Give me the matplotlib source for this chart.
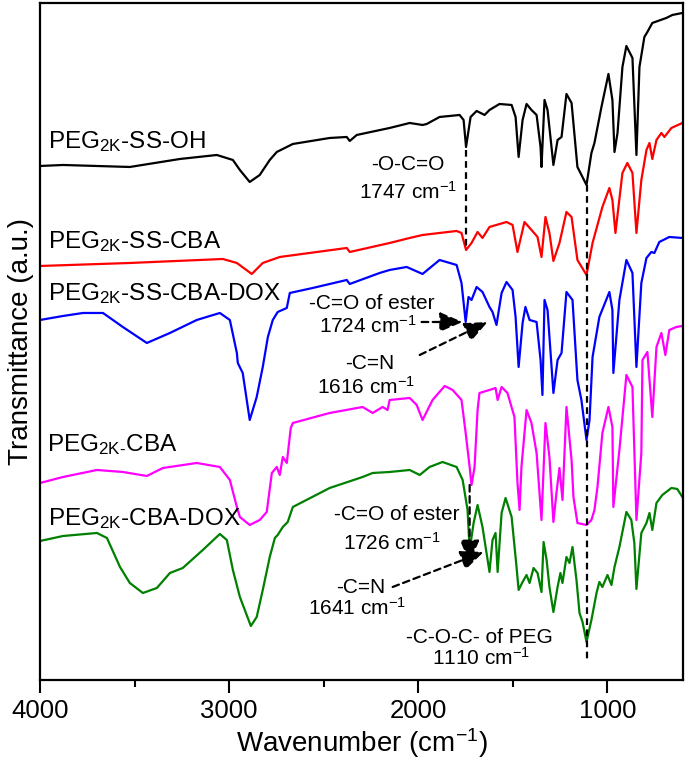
import numpy as np
import matplotlib
matplotlib.use('Agg')
import matplotlib.pyplot as plt
from matplotlib.ticker import MultipleLocator

plt.rcParams['font.family'] = ['Liberation Sans', 'DejaVu Sans']
plt.rcParams['mathtext.fontset'] = 'custom'
plt.rcParams['mathtext.rm'] = 'Liberation Sans'
plt.rcParams['mathtext.it'] = 'Liberation Sans'

# FTIR spectra, wavenumber (cm-1) / transmittance (a.u., stacked)
wn_ss_oh = [4000, 3878, 3525, 3260, 3065, 2980, 2943, 2891, 2838, 2785, 2748, 2663, 2468, 2378, 2362,
            2325, 2151, 2045, 1977, 1955, 1887, 1781, 1760, 1747, 1723, 1691, 1649, 1623, 1570, 1506,
            1485, 1469, 1448, 1427, 1401, 1374, 1353, 1348, 1332, 1316, 1285, 1263, 1242, 1216, 1189,
            1158, 1110, 1084, 1068, 1031, 994, 973, 962, 946, 920, 899, 867, 846, 830, 804, 788, 762,
            688, 656, 603]
t_ss_oh = [514, 515, 513, 521, 525, 520, 510, 498, 505, 520, 528, 536, 542, 543, 539,
           545, 552, 557, 555, 556, 563, 565, 560, 533, 563, 569, 565, 570, 576, 575,
           563, 523, 560, 576, 570, 565, 533, 513, 580, 570, 515, 540, 543, 586, 577,
           513, 495, 527, 537, 573, 606, 580, 528, 547, 613, 634, 622, 525, 613, 643, 648, 657,
           662, 665, 667]

wn_ss_cba = [4000, 3525, 3033, 2959, 2880, 2822, 2732, 2378, 2362, 2151, 2045, 1977, 1797, 1771, 1747,
             1718, 1686, 1660, 1623, 1533, 1501, 1475, 1438, 1401, 1369, 1348, 1327, 1306, 1285, 1253,
             1216, 1189, 1158, 1110, 1078, 1026, 989, 973, 957, 920, 894, 867, 846, 820, 793, 777,
             762, 740, 714, 698, 661, 603]
t_ss_cba = [414, 417, 421, 417, 406, 417, 423, 432, 428, 437, 442, 445, 449, 447, 430,
            437, 448, 442, 453, 458, 455, 428, 458, 450, 443, 423, 463, 447, 419, 437,
            468, 463, 420, 405, 437, 473, 492, 480, 447, 507, 517, 507, 447, 500, 530, 537,
            521, 540, 547, 543, 552, 557]

wn_ss_dox = [4000, 3878, 3773, 3667, 3562, 3435, 3313, 3171, 3049, 2996, 2959, 2954, 2928, 2891, 2854,
             2822, 2795, 2769, 2743, 2695, 2679, 2558, 2378, 2362, 2204, 2151, 2061, 1977, 1887, 1797,
             1771, 1749, 1734, 1718, 1691, 1660, 1623, 1607, 1586, 1559, 1533, 1501, 1485, 1469, 1448,
             1433, 1411, 1374, 1353, 1343, 1332, 1316, 1285, 1263, 1242, 1216, 1184, 1158, 1137, 1110,
             1094, 1078, 1042, 989, 973, 968, 936, 899, 867, 846, 820, 793, 767, 751, 725, 672, 603]
t_ss_dox = [360, 364, 367, 367, 353, 337, 347, 360, 367, 360, 327, 317, 307, 260, 283,
            313, 343, 360, 368, 372, 387, 392, 400, 396, 407, 410, 413, 406, 420, 415,
            397, 358, 383, 380, 393, 388, 373, 368, 355, 387, 398, 390, 363, 313, 357,
            373, 360, 358, 320, 285, 380, 370, 287, 320, 327, 388, 380, 300, 280, 240,
            260, 323, 363, 388, 370, 307, 380, 420, 407, 313, 397, 422, 428, 427, 438, 443, 442]

wn_cba = [4000, 3878, 3699, 3562, 3435, 3350, 3171, 3049, 2996, 2959, 2943, 2891, 2838, 2801, 2774,
          2748, 2732, 2716, 2695, 2674, 2663, 2468, 2294, 2241, 2188, 2162, 2151, 2045, 2008, 1977,
          1924, 1860, 1818, 1771, 1749, 1728, 1718, 1702, 1686, 1676, 1623, 1591, 1580, 1559, 1528,
          1491, 1475, 1464, 1454, 1427, 1401, 1374, 1348, 1327, 1306, 1285, 1269, 1253, 1237, 1216,
          1189, 1179, 1158, 1110, 1084, 1068, 1052, 1026, 994, 973, 968, 936, 899, 867, 846, 820,
          814, 788, 762, 740, 714, 693, 672, 635, 603]
t_cba = [197, 203, 210, 208, 204, 212, 217, 213, 200, 173, 163, 155, 160, 168, 207,
         213, 205, 223, 217, 252, 257, 267, 273, 267, 273, 270, 280, 282, 275, 260,
         280, 294, 290, 280, 247, 213, 195, 213, 270, 287, 290, 292, 280, 293, 287,
         263, 197, 170, 213, 270, 257, 227, 160, 257, 223, 158, 187, 212, 180, 273,
         220, 183, 157, 155, 160, 170, 193, 247, 273, 253, 173, 230, 305, 293, 160, 227,
         320, 328, 263, 333, 347, 325, 350, 353, 354]

wn_cba_dox = [4000, 3878, 3699, 3646, 3577, 3525, 3456, 3382, 3313, 3245, 3139, 3049, 3012, 2980, 2943,
              2917, 2885, 2854, 2822, 2785, 2758, 2743, 2716, 2690, 2663, 2468, 2294, 2241, 2151, 2045,
              1992, 1940, 1871, 1797, 1765, 1739, 1728, 1707, 1686, 1660, 1623, 1607, 1591, 1580, 1559,
              1538, 1506, 1480, 1469, 1448, 1427, 1411, 1390, 1369, 1348, 1337, 1321, 1306, 1285, 1263,
              1248, 1237, 1216, 1200, 1184, 1163, 1147, 1131, 1110, 1084, 1057, 1042, 1026, 999, 978,
              962, 936, 899, 873, 857, 846, 820, 793, 777, 762, 740, 709, 661, 630, 603]
t_cba_dox = [139, 144, 147, 142, 113, 97, 87, 92, 107, 112, 130, 146, 140, 110, 83,
             70, 54, 63, 90, 123, 142, 145, 153, 158, 173, 192, 203, 207, 208, 210,
             205, 213, 218, 213, 200, 170, 130, 157, 175, 153, 108, 140, 147, 108, 167,
             182, 163, 113, 90, 98, 105, 97, 112, 107, 88, 138, 120, 93, 68, 93,
             107, 97, 123, 117, 133, 100, 67, 58, 38, 60, 87, 98, 93, 105, 95,
             113, 133, 168, 160, 137, 91, 147, 157, 167, 150, 177, 185, 192, 191, 183]

fig = plt.figure(figsize=(6.85, 7.63), dpi=100)
ax = fig.add_axes([0.0584, 0.1088, 0.9386, 0.8873])

lw = 1.6
ax.plot(wn_ss_oh, t_ss_oh, color='black', lw=lw)
ax.plot(wn_ss_cba, t_ss_cba, color='#ff0000', lw=lw)
ax.plot(wn_ss_dox, t_ss_dox, color='#0000ff', lw=lw)
ax.plot(wn_cba, t_cba, color='#ff00ff', lw=lw)
ax.plot(wn_cba_dox, t_cba_dox, color='#008000', lw=lw)

ax.set_xlim(4000, 600)
ax.set_ylim(0, 677)
ax.set_yticks([])
ax.xaxis.set_major_locator(MultipleLocator(1000))
ax.xaxis.set_minor_locator(MultipleLocator(500))
ax.tick_params(axis='x', which='major', direction='out', length=9, width=1.5, labelsize=18.5, pad=5)
ax.tick_params(axis='x', which='minor', direction='out', length=5, width=1.5)
for s in ax.spines.values():
    s.set_linewidth(1.6)

ax.set_xlabel('Wavenumber (cm$^{-1}$)', fontsize=20, labelpad=2)
ax.set_ylabel('Transmittance (a.u.)', fontsize=20, labelpad=4)

# curve labels
lab = dict(fontsize=17.5, ha='left', va='baseline')
ax.text(3958, 532, 'PEG$_{\\mathrm{2K}}$-SS-OH', **lab)
ax.text(3958, 432, 'PEG$_{\\mathrm{2K}}$-SS-CBA', **lab)
ax.text(3958, 380, 'PEG$_{\\mathrm{2K}}$-SS-CBA-DOX', **lab)
ax.text(3962, 229, 'PEG$_{\\text{2K-}}$CBA', **lab)
ax.text(3958, 155, 'PEG$_{\\mathrm{2K}}$-CBA-DOX', **lab)

# peak annotations
fs = 15
dash = (0, (3, 2))
ax.plot([1747, 1747], [530, 432], color='k', lw=1.6, ls=dash)
ax.plot([1110, 1110], [495, 20], color='k', lw=1.6, ls=dash)
ax.text(2056, 515, '-O-C=O', fontsize=fs, ha='center', va='center')
ax.text(2056, 488, '1747 cm$^{-1}$', fontsize=fs, ha='center', va='center')

ax.text(2246, 376, '-C=O of ester', fontsize=fs, ha='center', va='center')
ax.text(2267, 354, '1724 cm$^{-1}$', fontsize=fs, ha='center', va='center')
ax.text(2257, 316, '-C=N', fontsize=fs, ha='center', va='center')
ax.text(2273, 293, '1616 cm$^{-1}$', fontsize=fs, ha='center', va='center')

ax.text(2114, 165, '-C=O of ester', fontsize=fs, ha='center', va='center')
ax.text(2140, 137, '1726 cm$^{-1}$', fontsize=fs, ha='center', va='center')
ax.text(2304, 92, '-C=N', fontsize=fs, ha='center', va='center')
ax.text(2325, 72, '1641 cm$^{-1}$', fontsize=fs, ha='center', va='center')

ax.text(1676, 42, '-C-O-C- of PEG', fontsize=fs, ha='center', va='center')
ax.text(1670, 22, '1110 cm$^{-1}$', fontsize=fs, ha='center', va='center')

arr = dict(arrowstyle='-|>,head_length=0.7,head_width=0.3', color='k', lw=1.6,
           linestyle=(0, (3, 2)), shrinkA=0, shrinkB=0, mutation_scale=20)
ax.annotate('', xy=(1765, 358), xytext=(1982, 358), arrowprops=arr)
ax.annotate('', xy=(1633, 358), xytext=(1992, 325), arrowprops=arr)
ax.annotate('', xy=(1728, 117), xytext=(1728, 195), arrowprops=arr)
ax.annotate('', xy=(1654, 128), xytext=(2135, 93), arrowprops=arr)

fig.savefig('out.png', dpi=100)
